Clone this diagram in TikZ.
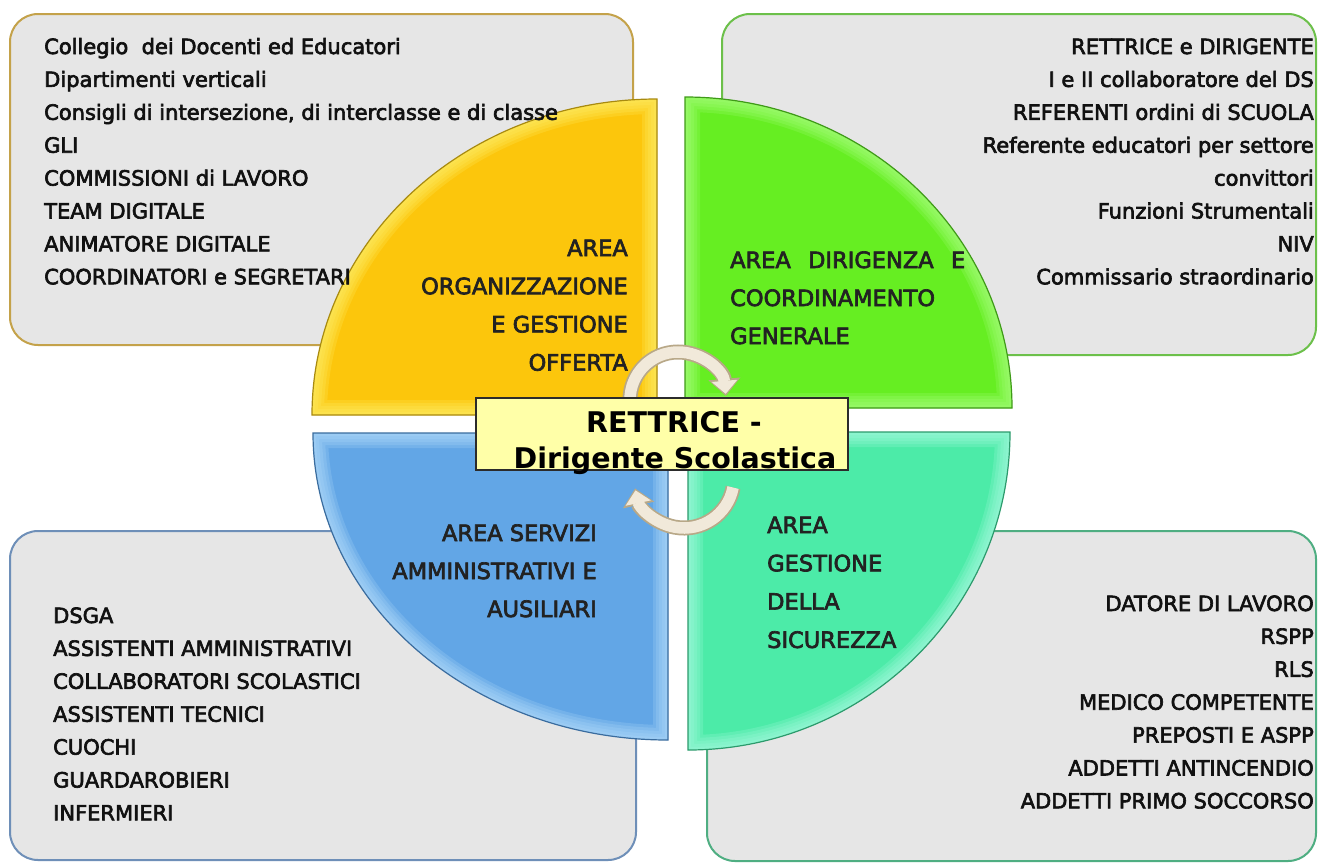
\documentclass[tikz,border=0pt]{standalone}
\usepackage{fontspec}
\setmainfont{DejaVu Sans}
\newfontfamily\itemfont{DejaVu Sans}[FakeBold=3]
\usetikzlibrary{arrows.meta}

\definecolor{panelF}{HTML}{E6E6E6}
\definecolor{tlD}{HTML}{C4A24A}
\definecolor{trD}{HTML}{6CC04A}
\definecolor{blD}{HTML}{6E8FB8}
\definecolor{brD}{HTML}{4FAE82}
\definecolor{yelF}{HTML}{FCC60C}
\definecolor{yelL}{HTML}{FFF06A}
\definecolor{yelD}{HTML}{A88A10}
\definecolor{grnF}{HTML}{66EE22}
\definecolor{grnL}{HTML}{A8FF80}
\definecolor{grnD}{HTML}{3F9A18}
\definecolor{bluF}{HTML}{62A6E6}
\definecolor{bluL}{HTML}{B4DDFB}
\definecolor{bluD}{HTML}{3A6C9E}
\definecolor{mntF}{HTML}{4CEBA8}
\definecolor{mntL}{HTML}{A8FBE0}
\definecolor{mntD}{HTML}{2C9A6C}
\definecolor{turnfill}{HTML}{F1E9DA}
\definecolor{turnline}{HTML}{B8A888}
\definecolor{headfill}{HTML}{FFFFA8}
\definecolor{headline}{HTML}{2B2B2B}
\definecolor{itemtext}{HTML}{111111}
\definecolor{areatext}{HTML}{222222}

\tikzset{
  panel/.style={rounded corners=28pt, fill=panelF, line width=2pt},
  item/.style={font=\itemfont\fontsize{21}{25}\selectfont, text=itemtext, inner sep=0pt},
  area/.style={font=\itemfont\fontsize{22.5}{27}\selectfont, text=areatext, inner sep=0pt},
  turn/.style={line width=15pt, draw=turnline, -{Triangle[width=31pt,length=17pt]}},
  turnin/.style={line width=11.5pt, draw=turnfill, shorten >=2pt, -{Triangle[width=25pt,length=13pt]}},
  headbox/.style={draw=headline, fill=headfill, line width=1.5pt, minimum width=372pt, minimum height=72pt, inner sep=0pt},
  headtext/.style={font=\bfseries\fontsize{28.5}{34}\selectfont, text=black, inner sep=0pt}
}

\begin{document}
\begin{tikzpicture}[x=1pt,y=-1pt]
  \useasboundingbox[fill=white] (0,0) rectangle (1318,863);

  % panels
  \draw[panel, draw=tlD] (10,14) rectangle (633,345);
  \draw[panel, draw=trD] (722,14) rectangle (1316,355);
  \draw[panel, draw=blD] (10,531) rectangle (636,860);
  \draw[panel, draw=brD] (707,531) rectangle (1316,861);

  % quadrants
  \foreach \col/\cx/\cy/\sa/\ea/\rx/\ry in {yel/657/415/180/270/345/316, grn/685/408/270/360/327/311,
      blu/668/433/180/90/355/307, mnt/688/432/0/90/322/318}{
    \def\quadpath{(\cx,\cy) -- ++({\rx*cos(\sa)},{\ry*sin(\sa)}) arc[start angle=\sa, end angle=\ea, x radius=\rx, y radius=\ry] -- cycle}
    \fill[fill=\col F] \quadpath;
    \begin{scope}
      \clip \quadpath;
      \foreach \w in {30,24,18,12,6}
        \draw[line width=\w pt, color=\col L, opacity=.22] \quadpath;
    \end{scope}
    \draw[color=\col D, line width=1.2pt] \quadpath;
  }

  % turning arrows
  \coordinate (topturn) at (678,400);
  \coordinate (botturn) at (684,478);
  \draw[turn] ([shift={(180:48)}]topturn) arc[start angle=180, end angle=355, radius=48];
  \draw[turnin] ([shift={(180:48)}]topturn) arc[start angle=180, end angle=355, radius=48];
  \draw[turn] ([shift={(11:50)}]botturn) arc[start angle=11, end angle=168, radius=50];
  \draw[turnin] ([shift={(11:50)}]botturn) arc[start angle=11, end angle=168, radius=50];

  % centre
  \node[headbox] (head) at (662,434) {};
  \node[headtext, anchor=base] (head1) at (674,432) {RETTRICE -};
  \node[headtext, anchor=base] (head2) at (675,468) {Dirigente Scolastica};

  % area labels
  \foreach \t [count=\i from 0] in {AREA, ORGANIZZAZIONE, E GESTIONE, OFFERTA}
    \node[area, anchor=base east] (org\i) at (628,256+38.2*\i) {\t};
  \node[area, anchor=base west] (dir0) at (730,268) {\makebox[235pt][s]{AREA DIRIGENZA E}};
  \node[area, anchor=base west] (dir1) at (730,306) {COORDINAMENTO};
  \node[area, anchor=base west] (dir2) at (730,344) {GENERALE};
  \foreach \t [count=\i from 0] in {AREA SERVIZI, AMMINISTRATIVI E, AUSILIARI}
    \node[area, anchor=base east] (srv\i) at (597,541+38*\i) {\t};
  \foreach \t [count=\i from 0] in {AREA, GESTIONE, DELLA, SICUREZZA}
    \node[area, anchor=base west] (sic\i) at (767,533+38.3*\i) {\t};

  % lists
  \foreach \t [count=\i from 0] in {Collegio\ \ dei Docenti ed Educatori, Dipartimenti verticali,
      {Consigli di intersezione, di interclasse e di classe}, GLI, COMMISSIONI di LAVORO,
      TEAM DIGITALE, ANIMATORE DIGITALE, COORDINATORI e SEGRETARI}
    \node[item, anchor=base west] (orgitem\i) at (44,54+32.9*\i) {\t};
  \foreach \t [count=\i from 0] in {RETTRICE e DIRIGENTE, I e II collaboratore del DS,
      REFERENTI ordini di SCUOLA, Referente educatori per settore, convittori,
      Funzioni Strumentali, NIV, Commissario straordinario}
    \node[item, anchor=base east] (diritem\i) at (1314,54+32.9*\i) {\t};
  \foreach \t [count=\i from 0] in {DSGA, ASSISTENTI AMMINISTRATIVI, COLLABORATORI SCOLASTICI,
      ASSISTENTI TECNICI, CUOCHI, GUARDAROBIERI, INFERMIERI}
    \node[item, anchor=base west] (srvitem\i) at (53,623+32.9*\i) {\t};
  \foreach \t [count=\i from 0] in {DATORE DI LAVORO, RSPP, RLS, MEDICO COMPETENTE,
      PREPOSTI E ASPP, ADDETTI ANTINCENDIO, ADDETTI PRIMO SOCCORSO}
    \node[item, anchor=base east] (sicitem\i) at (1314,611+32.9*\i) {\t};
\end{tikzpicture}
\end{document}
